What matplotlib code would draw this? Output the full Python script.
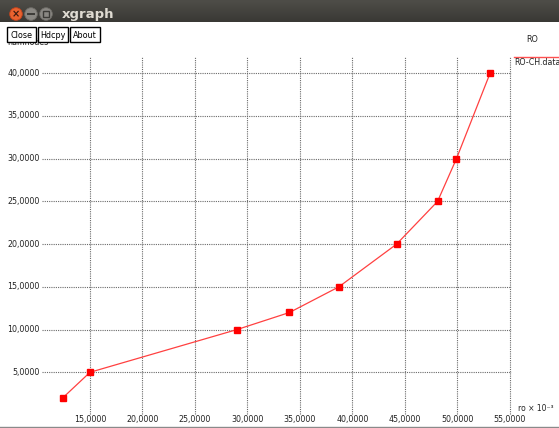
import numpy as np
import matplotlib
matplotlib.use("Agg")
import matplotlib.pyplot as plt
from matplotlib.patches import Rectangle, Circle

# Data (displayed units, x 10^-3)
ro = [12.4, 15.0, 29.0, 34.0, 38.7, 44.2, 48.1, 49.9, 53.1]
numnodes = [2.0, 5.0, 10.0, 12.0, 15.0, 20.0, 25.0, 30.0, 40.0]
x_ticks = [15, 20, 25, 30, 35, 40, 45, 50, 55]
y_ticks = [5, 10, 15, 20, 25, 30, 35, 40]
series_name = "RO-CH.data"
window_title = "xgraph"
plot_title = "RO"
x_label = "ro \u00d7 10\u207b\u00b3"
y_label = "numnodes"
buttons = ["Close", "Hdcpy", "About"]

W, H = 559, 428
fig = plt.figure(figsize=(W / 100, H / 100), dpi=100)
fig.patch.set_facecolor("white")

# Plot axes: the whole window, data scale chosen so the grid lands inside the frame
ax = fig.add_axes([0, 0, 1, 1])
ax.set_xlim(6.4286, 59.667)
ax.set_ylim(-1.522, 48.577)
ax.axis("off")

tick_font = dict(family="DejaVu Sans", size=5.7, color="#222222")
grid_kw = dict(colors="#6a6a6a", linestyles=(0, (1, 1)), linewidth=0.8, zorder=1)

ax.vlines(x_ticks, 0.1, 41.9, **grid_kw)
ax.hlines(y_ticks, 10.4, 55.1, **grid_kw)

def fmt(v):
    return f"{v:.4f}".replace(".", ",")

for v in y_ticks:
    ax.text(10.2, v, fmt(v), ha="right", va="center", **tick_font)
for v in x_ticks:
    ax.text(v, -0.55, fmt(v), ha="center", va="center", **tick_font)

ax.plot(ro, numnodes, color="#ff4040", linewidth=0.9, zorder=3)
ax.plot(ro, numnodes, linestyle="none", marker="s", markersize=4.0,
        markerfacecolor="#ff0000", markeredgecolor="#ff0000", zorder=4)

# Window chrome in pixel coordinates
ov = fig.add_axes([0, 0, 1, 1])
ov.set_xlim(0, W)
ov.set_ylim(H, 0)
ov.axis("off")
ov.patch.set_alpha(0)

grad = np.linspace(0, 1, 22)[:, None]
top = np.array([0x4e, 0x4d, 0x48]) / 255
bot = np.array([0x3a, 0x39, 0x35]) / 255
img = top[None, None, :] * (1 - grad[..., None]) + bot[None, None, :] * grad[..., None]
img = np.repeat(img, 2, axis=1)
ov.imshow(img, extent=[0, W, 22, 0], aspect="auto", zorder=5, interpolation="bilinear")
ov.set_xlim(0, W)
ov.set_ylim(H, 0)

ov.add_patch(Circle((16, 14), 6.3, facecolor="#e9622f", edgecolor="#c4431c", linewidth=0.6, zorder=6))
ov.text(16, 14.3, "\u00d7", ha="center", va="center", fontsize=7, color="#3a1a10",
        fontweight="bold", zorder=7)
ov.add_patch(Circle((31, 14), 6.3, facecolor="#8a8883", edgecolor="#6d6b66", linewidth=0.6, zorder=6))
ov.plot([28, 34], [14, 14], color="#3c3b37", linewidth=1.4, zorder=7)
ov.add_patch(Circle((46, 14), 6.3, facecolor="#8a8883", edgecolor="#6d6b66", linewidth=0.6, zorder=6))
ov.add_patch(Rectangle((43.3, 11.3), 5.4, 5.4, facecolor="none", edgecolor="#3c3b37",
                       linewidth=1.0, zorder=7))
ov.text(62, 14.5, window_title, ha="left", va="center", fontsize=9.5, fontweight="bold",
        color="#dfdbd2", family="DejaVu Sans", zorder=7)

ov.text(7, 42.8, y_label, ha="left", va="center", fontsize=5.7, color="#222222",
        family="DejaVu Sans", zorder=8)

btn_x = [(7, 36), (38, 68), (70, 100)]
for (x0, x1), name in zip(btn_x, buttons):
    ov.add_patch(Rectangle((x0, 27), x1 - x0, 15, facecolor="white", edgecolor="black",
                           linewidth=1.0, zorder=9))
    ov.text((x0 + x1) / 2, 35, name, ha="center", va="center", fontsize=5.8,
            family="DejaVu Sans", color="black", zorder=10)

ov.text(532, 39, plot_title, ha="center", va="center", fontsize=5.8,
        family="DejaVu Sans", color="#222222", zorder=8)

ov.plot([514, W], [57.3, 57.3], color="#ff5050", linewidth=1.0, zorder=8)
ov.text(514, 62.5, series_name, ha="left", va="center", fontsize=5.7,
        family="DejaVu Sans", color="#222222", zorder=8, clip_on=True)

ov.text(518, 408.5, x_label, ha="left", va="center", fontsize=5.5,
        family="DejaVu Sans", color="#222222", zorder=8)

ov.plot([0, W], [427.3, 427.3], color="#8a8a8a", linewidth=1.0, zorder=8)

fig.savefig("out.png", dpi=100, facecolor="white")
